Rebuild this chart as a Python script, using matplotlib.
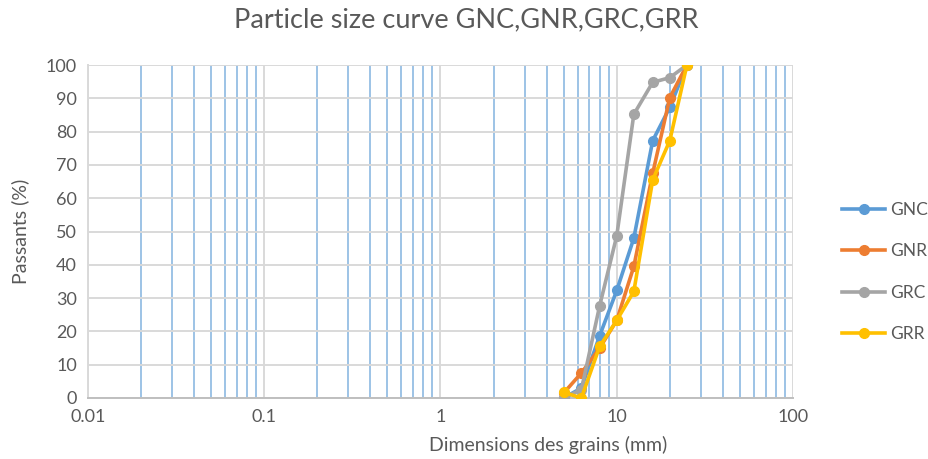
import matplotlib.pyplot as plt
from matplotlib.ticker import FixedLocator, FuncFormatter, NullFormatter

# tamis (mm) et passants (%)
tamis = [5, 6.3, 8, 10, 12.5, 16, 20, 25]
gnc = [0, 3, 18.7, 32.3, 48, 77.3, 87.3, 100]
gnr = [1.5, 7.5, 15, 23.3, 39.5, 67.5, 90.2, 100]
grc = [0, 2.5, 27.7, 48.7, 85.2, 94.8, 96.2, 100]
grr = [1.7, 0, 15.5, 23.3, 32, 65.5, 77.3, 100]

noms = ['GNC', 'GNR', 'GRC', 'GRR']
couleurs = ['#5b9bd5', '#ed7d31', '#a5a5a5', '#ffc000']

plt.rcParams['font.family'] = ['Lato', 'DejaVu Sans']
gris_texte = '#595959'

fig = plt.figure(figsize=(9.29, 4.59), dpi=100)
ax = fig.add_axes([88/929, 1-398/459, (793-88)/929, (398-65)/459])

for serie, nom, c in zip([gnc, gnr, grc, grr], noms, couleurs):
    ax.plot(tamis, serie, color=c, lw=2.6, marker='o', ms=7, label=nom,
            solid_joinstyle='round', zorder=3)

ax.set_xscale('log')
ax.set_xlim(0.01, 100)
ax.set_ylim(0, 100)
ax.set_yticks(range(0, 101, 10))
ax.xaxis.set_major_locator(FixedLocator([0.01, 0.1, 1, 10, 100]))
ax.xaxis.set_major_formatter(FuncFormatter(lambda v, p: f'{v:g}'))
mineurs = [m * d for d in [0.01, 0.1, 1, 10] for m in range(2, 10)]
ax.xaxis.set_minor_locator(FixedLocator(mineurs))
ax.xaxis.set_minor_formatter(NullFormatter())

ax.grid(True, which='minor', axis='x', color='#9dc3e6', lw=1.4, zorder=1)
ax.grid(True, which='major', axis='x', color='#d9d9d9', lw=1.4, zorder=1)
ax.grid(True, which='major', axis='y', color='#d9d9d9', lw=1.4, zorder=0)
ax.set_axisbelow(True)

for s in ['top', 'right']:
    ax.spines[s].set_visible(False)
ax.spines['left'].set_color('#d9d9d9')
ax.spines['left'].set_linewidth(1.4)
ax.spines['bottom'].set_color('#bfbfbf')
ax.spines['bottom'].set_linewidth(1.4)
ax.tick_params(which='both', length=0, labelsize=13, colors=gris_texte, pad=8)

ax.set_xlabel('Dimensions des grains (mm)', fontsize=14, color=gris_texte, labelpad=0)
ax.xaxis.set_label_coords((548-88)/(793-88), -0.115)
ax.set_ylabel('Passants (%)', fontsize=14, color=gris_texte)
ax.yaxis.set_label_coords(-0.084, 0.5)
fig.text(466/929, 1-20/459, 'Particle size curve GNC,GNR,GRC,GRR', fontsize=19.5,
         color=gris_texte, ha='center', va='center')

leg = fig.legend(loc='center left', bbox_to_anchor=(842/929, 1-272/459), frameon=False,
                 fontsize=12.5, labelcolor=gris_texte, handlelength=2.5,
                 labelspacing=1.45, handletextpad=0.25, borderpad=0, borderaxespad=0)

fig.savefig('out.png', dpi=100)
